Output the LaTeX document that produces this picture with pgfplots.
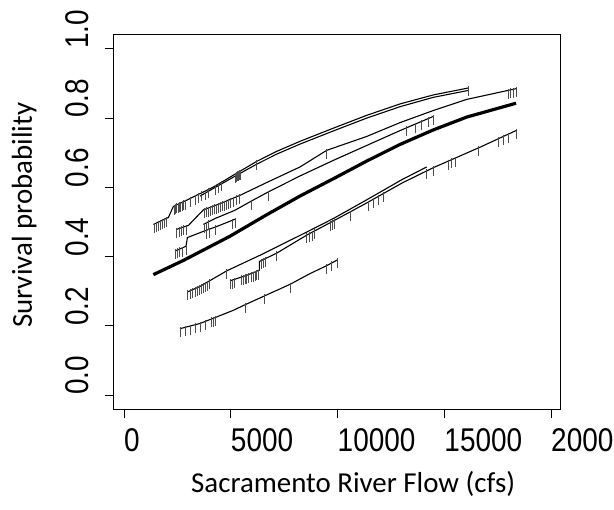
\documentclass[border=0pt]{standalone}
\usepackage{fontspec}
\setmainfont{Liberation Sans}
\newfontfamily\tickfont[FakeStretch=0.85]{Liberation Sans}
\newfontfamily\labfont{Carlito}
\usepackage{pgfplots}
\pgfplotsset{compat=1.18}

% short vertical dash hanging below each observation
\pgfdeclareplotmark{dn}{%
  \pgfpathmoveto{\pgfqpoint{0pt}{1.5bp}}%
  \pgfpathlineto{\pgfqpoint{0pt}{-8.5bp}}%
  \pgfusepathqstroke}

\pgfplotsset{
  curve/.style={black, line width=1.1bp, mark=none},
  obs/.style={only marks, mark=dn, black!70, line width=0.9bp},
}

\begin{document}
\begin{tikzpicture}
\begin{axis}[
    width=446bp, height=374bp, scale only axis,
    xmin=-470, xmax=20420, ymin=-0.04, ymax=1.04,
    scaled ticks=false,
    xtick={0,5000,10000,15000,20000},
    xticklabels={0,5000,10000,15000,20000},
    ytick={0,0.2,0.4,0.6,0.8,1.0},
    yticklabels={0.0,0.2,0.4,0.6,0.8,1.0},
    tick pos=left, tick align=outside,
    major tick length=9bp,
    major tick style={black, line width=1bp},
    axis line style={black, line width=1bp},
    x tick label style={font=\tickfont\fontsize{33}{33}\selectfont, anchor=north west, inner sep=0pt, yshift=-10bp},
    y tick label style={font=\tickfont\fontsize{33}{33}\selectfont, xshift=-16bp, rotate=90, anchor=south west, inner sep=0pt},
]
\coordinate (O) at (rel axis cs:0,0);

% fitted curve (thick)
\addplot[black, line width=3.2bp] coordinates {
 (1374,0.348) (2779,0.389) (4965,0.459) (6684,0.521) (8244,0.575) (9962,0.630)
 (11367,0.676) (12928,0.724) (14489,0.766) (16052,0.803) (18362,0.843)};

% top pair
\addplot[curve] coordinates {
 (1374,0.493) (2077,0.513) (2311,0.545) (2935,0.563) (3560,0.582) (4184,0.601)
 (4653,0.618) (5277,0.641) (6214,0.675) (7151,0.704) (8244,0.733) (9805,0.771)
 (11366,0.808) (12928,0.841) (14489,0.867) (16128,0.887)};
\addplot[curve] coordinates {
 (3560,0.575) (5277,0.635) (6214,0.667) (7151,0.696) (8244,0.725) (9805,0.763)
 (11366,0.800) (12928,0.833) (14489,0.860) (16128,0.880)};
\addplot[obs] coordinates {
 (1405,0.4942) (1499,0.4966) (1593,0.4990) (1686,0.5019) (1780,0.5043) (1874,0.5067) (1967,0.5096)
 (2342,0.5461) (2405,0.5480) (2467,0.5495) (2529,0.5509) (2592,0.5528) (2654,0.5547)
 (2717,0.5562) (2779,0.5581) (2857,0.5605)
 (3123,0.5682) (3326,0.5745) (3482,0.5793) (3638,0.5841) (3794,0.5889) (3950,0.5937)
 (4262,0.6038) (4419,0.6096) (4575,0.6153)
 (5199,0.6384) (5246,0.6403) (5293,0.6418) (5340,0.6437) (5387,0.6451) (5433,0.6470)
 (6214,0.6749) (16128,0.8870)};

% curve ending top right
\addplot[curve] coordinates {
 (2467,0.479) (3013,0.490) (3716,0.535) (4497,0.553) (5433,0.577) (6683,0.614)
 (8244,0.659) (9493,0.707) (11366,0.747) (12928,0.787) (14489,0.822) (16050,0.854)
 (18361,0.885)};
\addplot[obs] coordinates {
 (2467,0.4788) (2576,0.4811) (2686,0.4834) (2795,0.4857) (2904,0.4880)
 (3747,0.5362) (3841,0.5383) (3935,0.5403) (4028,0.5424) (4122,0.5446) (4216,0.5466)
 (4309,0.5487) (4403,0.5507) (4497,0.5528) (4590,0.5552) (4684,0.5576) (4778,0.5600)
 (4871,0.5625) (4965,0.5649) (5121,0.5689) (5277,0.5728) (5402,0.5761)
 (9493,0.7067) (18002,0.8797) (18111,0.8812) (18236,0.8829) (18361,0.8845)};

% curve ending near 14500
\addplot[curve] coordinates {
 (3716,0.493) (4262,0.510) (5199,0.534) (5980,0.561) (6761,0.587) (8244,0.633)
 (9805,0.678) (11366,0.721) (12928,0.764) (14489,0.805)};
\addplot[obs] coordinates {
 (3747,0.4942) (3841,0.4970) (3950,0.5002) (5980,0.5605) (6761,0.5865)
 (13240,0.7724) (13630,0.7825) (13943,0.7906) (14255,0.7987) (14489,0.8047)};

% short curve
\addplot[curve] coordinates {
 (2389,0.416) (2904,0.430) (2967,0.455) (3716,0.473) (4341,0.487) (5199,0.508)};
\addplot[obs] coordinates {
 (2389,0.4163) (2498,0.4192) (2608,0.4221) (2717,0.4249) (2904,0.4298)
 (3872,0.4766) (3997,0.4795) (4262,0.4856) (5090,0.5050) (5199,0.5077)};

% lower pair
\addplot[curve] coordinates {
 (2967,0.298) (3560,0.314) (4809,0.359) (6370,0.404) (8556,0.471) (9805,0.510)
 (11366,0.564) (13006,0.622) (14177,0.659)};
\addplot[obs] coordinates {
 (2967,0.2980) (3092,0.3015) (3216,0.3050) (3341,0.3083) (3435,0.3109) (3529,0.3135)
 (3622,0.3166) (3716,0.3199) (3810,0.3232) (3903,0.3265) (3997,0.3299) (4809,0.3586)};
\addplot[curve] coordinates {
 (4965,0.330) (5746,0.346) (6339,0.361) (6339,0.386) (7151,0.410) (8556,0.462)
 (9805,0.503) (11366,0.555) (13006,0.612) (14489,0.657) (16675,0.716) (18361,0.764)};
\addplot[obs] coordinates {
 (4965,0.3298) (5074,0.3321) (5184,0.3344) (5512,0.3412) (5590,0.3428) (5668,0.3445)
 (5746,0.3461) (5824,0.3478) (5980,0.3510) (6058,0.3526) (6136,0.3542) (6214,0.3560)
 (6292,0.3577) (6448,0.3898) (6526,0.3921) (6604,0.3944) (7151,0.4105)
 (8556,0.4625) (8681,0.4665) (8806,0.4705) (8931,0.4746)
 (9649,0.4977) (9743,0.5008) (9836,0.5039) (10586,0.5288)
 (11444,0.5575) (11679,0.5658) (11913,0.5741) (12147,0.5822)
 (14177,0.6474) (14489,0.6567) (15191,0.6758) (15348,0.6801) (15504,0.6845)
 (16597,0.7142) (17534,0.7403) (17768,0.7470) (18002,0.7537) (18361,0.7644)};

% bottom curve
\addplot[curve] coordinates {
 (2623,0.192) (3560,0.207) (4262,0.224) (5121,0.245) (5699,0.262) (6558,0.286)
 (7775,0.320) (8712,0.351) (9493,0.374) (10008,0.391)};
\addplot[obs] coordinates {
 (2623,0.1923) (2857,0.1958) (3092,0.1995) (3326,0.2031) (3560,0.2067) (3794,0.2125)
 (4106,0.2202) (4184,0.2221) (4262,0.2240) (5699,0.2624) (6558,0.2865) (7775,0.3201)
 (9493,0.3740) (9727,0.3819) (10008,0.3913)};
\end{axis}

\begin{scope}[shift={(O)}]
\node[font=\labfont\fontsize{29}{29}\selectfont, anchor=base west, inner sep=0pt]
  at (77bp,-83bp) {Sacramento River Flow (cfs)};
\node[font=\labfont\fontsize{29}{29}\selectfont, rotate=90, anchor=base west, inner sep=0pt]
  at (-82bp,81bp) {Survival probability};
\path (-114bp,-101bp) coordinate (A) (500bp,409bp) coordinate (B);
\end{scope}
\pgfresetboundingbox
\useasboundingbox (A) rectangle (B);
\end{tikzpicture}
\end{document}
